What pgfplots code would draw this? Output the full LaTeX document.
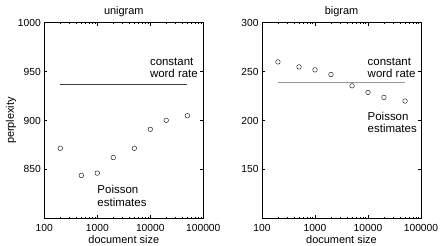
\documentclass[border=0pt]{standalone}
\usepackage{fontspec}
\setmainfont{Liberation Sans}
\usepackage{pgfplots}
\pgfplotsset{compat=1.18}
\pgfplotsset{
  mystyle/.style={
    scale only axis, width=159bp, height=195.6bp,
    xmin=100, xmax=100000,
    xtick={100,1000,10000,100000},
    xticklabels={100,1000,10000,100000},
    tick align=inside, tick pos=both,
    major tick length=3bp, minor tick length=1.8bp,
    axis line style={black, line width=0.5pt},
    every tick/.style={black, line width=0.4pt},
    /pgf/number format/assume math mode=true,
    ticklabel style={font=\fontsize{10.3}{12}\selectfont},
    xticklabel style={anchor=base, inner sep=0.5bp, yshift=-13.3bp},
    label style={font=\fontsize{11}{12}\selectfont},
    title style={font=\fontsize{11}{12}\selectfont, yshift=-4bp},
    xlabel={document size},
    xlabel style={at={(axis description cs:0.5,0)}, anchor=base, inner sep=0.5bp, yshift=-25.3bp},
    clip=false,
  }
}
\begin{document}
\begin{tikzpicture}[font=\fontsize{11.5}{12.3}\selectfont]
\useasboundingbox (-44.3bp,-27.7bp) rectangle (398.7bp,218.3bp);
\begin{semilogxaxis}[mystyle, ymin=800, ymax=1000, ytick={850,900,950,1000},
  yticklabels={850,900,950,1000},
  title={unigram}, ylabel={perplexity}, ylabel style={yshift=-5bp}]
\addplot[no marks, color=black!75, line width=0.6pt] coordinates {(200,937.5) (50000,937.5)};
\addplot[only marks, mark=o, mark size=2.3bp, black, line width=0.4pt] coordinates {
(200,871.6) (500,843.8) (1000,846.2) (2000,862.1) (5000,871.6) (10000,891.0) (20000,900.2) (50000,904.9)};
\node[anchor=west, align=left, inner sep=0pt] at (axis cs:9800,954) {constant\\word rate};
\node[anchor=west, align=left, inner sep=0pt] at (axis cs:1000,823) {Poisson\\estimates};
\end{semilogxaxis}
\begin{semilogxaxis}[mystyle, xshift=217.7bp, ymin=100, ymax=300, ytick={150,200,250,300},
  yticklabels={150,200,250,300},
  title={bigram}]
\addplot[no marks, color=black!40, line width=0.9pt] coordinates {(200,238.9) (50000,238.9)};
\addplot[only marks, mark=o, mark size=2.3bp, black, line width=0.4pt] coordinates {
(200,259.9) (500,254.8) (1000,251.8) (2000,247.0) (5000,235.5) (10000,228.7) (20000,223.6) (50000,219.9)};
\node[anchor=west, align=left, inner sep=0pt] at (axis cs:9800,254) {constant\\word rate};
\node[anchor=west, align=left, inner sep=0pt] at (axis cs:9800,198) {Poisson\\estimates};
\end{semilogxaxis}
\end{tikzpicture}
\end{document}
